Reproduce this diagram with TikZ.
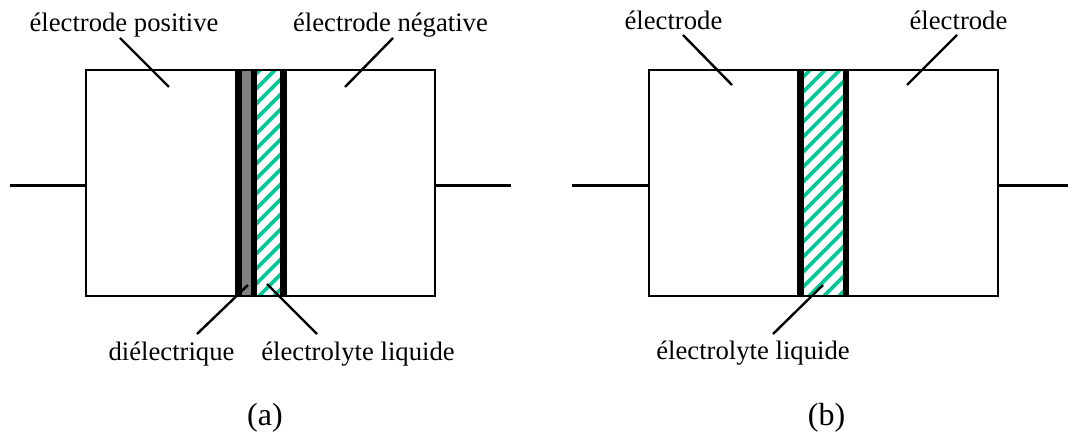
\documentclass[tikz,border=0pt]{standalone}
\usepackage{fontspec}
\setmainfont{Liberation Serif}
\definecolor{hatchgreen}{RGB}{0,200,150}
\tikzset{
  plate/.style={draw=black,line width=1.4pt},
  wire/.style={draw=black,line width=1.6pt},
  leader/.style={draw=black,line width=1.8pt},
  hatchline/.style={draw=hatchgreen,line width=2.9pt},
  label/.style={anchor=base,font=\fontsize{20}{22}\selectfont},
  caption/.style={anchor=base,font=\fontsize{24}{26}\selectfont},
  bar/.style={fill=black}
}
\begin{document}
\begin{tikzpicture}[y=0.75pt,x=0.75pt,yscale=-1, inner sep=0pt, outer sep=0pt]
\useasboundingbox (0,0) rectangle (1068,434);

% panel a
\begin{scope}
\clip (257,71) rectangle (280,296);
\foreach \i in {0,1,...,24}
  \path[hatchline] (240,90+\i*15) -- (300,30+\i*15);
\end{scope}
\path[fill=gray] (242,71) rectangle (251,296);
\path[bar] (235,71) rectangle (242,296);
\path[bar] (251,71) rectangle (257,296);
\path[bar] (280,71) rectangle (287,296);
\path[plate] (86,70) rectangle (435,296);
\coordinate (leadA) at (9.5,185.5);
\coordinate (boxAw) at (86,185.5);
\coordinate (boxAe) at (435,185.5);
\coordinate (leadB) at (511,185.5);
\path[wire] (leadA) -- (boxAw);
\path[wire] (boxAe) -- (leadB);

\node[label] (text1) at (124,32) {électrode positive};
\node[label] (text2) at (390.5,32) {électrode négative};
\node[label] (text3) at (171.5,361) {diélectrique};
\node[label] (text4) at (358,361) {électrolyte liquide};
\node[caption] (text5) at (265,426) {(a)};
\coordinate (tipA1a) at (120,38);
\coordinate (tipA1b) at (169,87);
\coordinate (tipA2a) at (393,38);
\coordinate (tipA2b) at (345,87);
\coordinate (tipA3a) at (197,334);
\coordinate (tipA3b) at (248,285);
\coordinate (tipA4a) at (317,334);
\coordinate (tipA4b) at (267,284);
\path[leader] (tipA1a) -- (tipA1b);
\path[leader] (tipA2a) -- (tipA2b);
\path[leader] (tipA3a) -- (tipA3b);
\path[leader] (tipA4a) -- (tipA4b);

% panel b
\begin{scope}
\clip (804,71) rectangle (843,296);
\foreach \i in {0,1,...,24}
  \path[hatchline] (790,90+\i*15) -- (860,20+\i*15);
\end{scope}
\path[bar] (797,71) rectangle (804,296);
\path[bar] (843,71) rectangle (849,296);
\path[plate] (649,70) rectangle (998,296);
\coordinate (leadC) at (572,185.5);
\coordinate (boxBw) at (649,185.5);
\coordinate (boxBe) at (998,185.5);
\coordinate (leadD) at (1068,185.5);
\path[wire] (leadC) -- (boxBw);
\path[wire] (boxBe) -- (leadD);

\node[label] (text6) at (673.5,30) {électrode};
\node[label] (text7) at (958.5,30) {électrode};
\node[label] (text8) at (753,360) {électrolyte liquide};
\node[caption] (text9) at (826.5,426) {(b)};
\coordinate (tipB1a) at (683,35);
\coordinate (tipB1b) at (732,85);
\coordinate (tipB2a) at (957,35);
\coordinate (tipB2b) at (907,85);
\coordinate (tipB3a) at (773,334);
\coordinate (tipB3b) at (823,285);
\path[leader] (tipB1a) -- (tipB1b);
\path[leader] (tipB2a) -- (tipB2b);
\path[leader] (tipB3a) -- (tipB3b);
\end{tikzpicture}
\end{document}
